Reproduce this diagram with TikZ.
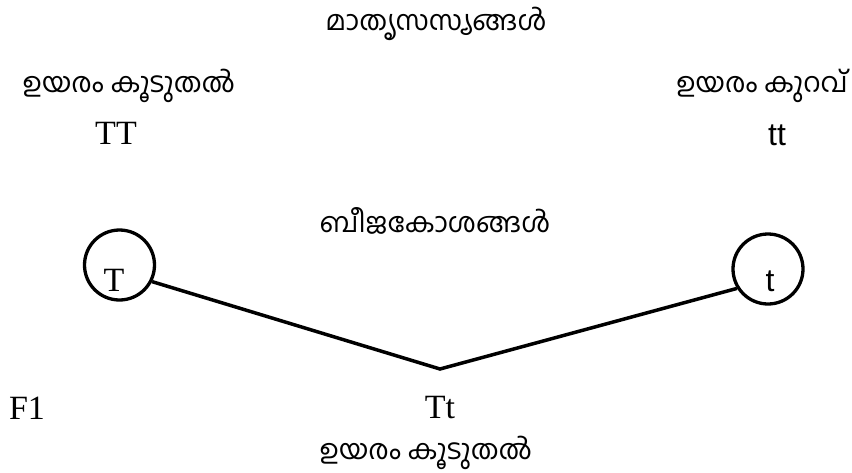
\documentclass[tikz,border=0pt]{standalone}
\usepackage{fontspec}
\setmainfont{Liberation Serif}
\newfontfamily\mlfont[Script=Malayalam]{Hind Kochi}
\newfontfamily\sansf{Liberation Sans}
\begin{document}
\begin{tikzpicture}[x=1pt,y=-1pt,
  ml/.style={inner sep=0pt,anchor=base,text depth=1pt,font=\mlfont\fontsize{27.5}{32}\selectfont},
  lat/.style={inner sep=0pt,font=\fontsize{34}{40}\selectfont},
  sns/.style={inner sep=0pt,font=\sansf\fontsize{32}{38}\selectfont},
  circ/.style={circle,draw,line width=3.3pt,minimum size=70pt,inner sep=0pt},
  link/.style={line width=3.5pt}]
\useasboundingbox (0,0) rectangle (852,472);
\node[ml] (title) at (436,30) {മാതൃസസ്യങ്ങൾ};
\node[ml] (hiL) at (129,92) {ഉയരം കൂടുതൽ};
\node[ml] (loR) at (762,92) {ഉയരം കുറവ്};
\node[lat] (TT) at (116,133) {TT};
\node[sns] (tt) at (777,135) {tt};
\node[ml] (gam) at (435,232) {ബീജകോശങ്ങൾ};
\node[circ] (cT) at (119.5,265) {};
\node[lat] (lT) at (114,280) {T};
\node[circ] (ct) at (768,269) {};
\node[sns] (lt) at (770,281) {t};
\coordinate (v) at (440,369);
\draw[link] (cT.-27.5) -- (v) -- (ct.212.6);
\node[lat] (F1) at (27,408) {F1};
\node[lat] (Tt) at (440,408) {Tt};
\node[ml] (hiB) at (426,459) {ഉയരം കൂടുതൽ};
\end{tikzpicture}
\end{document}
